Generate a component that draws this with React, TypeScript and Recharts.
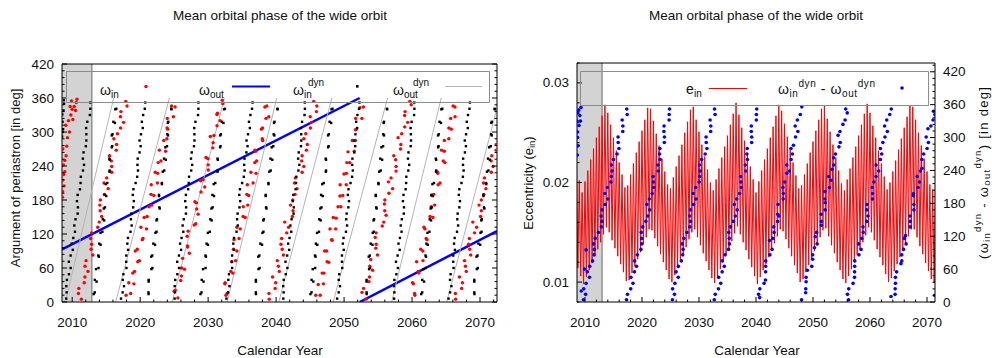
import React from "react";
import {
  ComposedChart,
  Line,
  Scatter,
  XAxis,
  YAxis,
  ReferenceArea,
  ReferenceLine,
} from "recharts";

const FONT = '"Liberation Sans", Arial, Helvetica, sans-serif';

// shaded observing window (calendar years)
const obsStart = 2008.5;
const obsEnd = 2012.9;

// axis ticks
const yearTicks = [2010, 2012, 2014, 2016, 2018, 2020, 2022, 2024, 2026, 2028, 2030, 2032, 2034, 2036, 2038, 2040, 2042, 2044, 2046, 2048, 2050, 2052, 2054, 2056, 2058, 2060, 2062, 2064, 2066, 2068, 2070, 2072];
const yearLabels = [2010, 2020, 2030, 2040, 2050, 2060, 2070];
const phaseTicks = [0, 25, 50, 75, 100, 125, 150, 175, 200];
const phaseLabels = [0, 50, 100, 150, 200];
const degTicks = [0, 12, 24, 36, 48, 60, 72, 84, 96, 108, 120, 132, 144, 156, 168, 180, 192, 204, 216, 228, 240, 252, 264, 276, 288, 300, 312, 324, 336, 348, 360, 372, 384, 396, 408, 420, 432];
const degLabels = [0, 60, 120, 180, 240, 300, 360, 420];
const eccTicks = [0.008, 0.01, 0.012, 0.014, 0.016, 0.018, 0.02, 0.022, 0.024, 0.026, 0.028, 0.03, 0.032];
const eccLabels = ["0.01", "0.02", "0.03"];

// omega_in (red points), [year, deg]
const omegaIn: [number, number][] = [
  [2008.55, 185], [2008.8, 205], [2008.6, 215], [2008.7, 242], [2008.92, 230], [2008.62, 270], [2009.1, 258], [2009.3, 290], [2009.05, 312], [2009.6, 300], [2009.8, 330], [2010.1, 322], [2010.3, 345], [2009.9, 355], [2010.5, 338], [2010.6, 352],
  [2008.58, 195], [2008.9, 250], [2009.2, 275], [2009.45, 320], [2010.0, 340], [2010.7, 358], [2009.7, 345], [2008.75, 225],
  [2011.35, 5], [2010.98, 24], [2011.87, 44], [2011.89, 63], [2013.04, 83], [2012.86, 102], [2012.86, 122], [2013.98, 141], [2014.12, 161], [2014.15, 180], [2015.3, 200], [2015.07, 219], [2015.81, 239], [2015.49, 258], [2016.53, 278], [2016.66, 297], [2017.56, 317], [2017.17, 336], [2017.88, 354],
  [2010.92, 15], [2011.77, 34], [2012.32, 54], [2012.04, 73], [2012.78, 93], [2012.71, 112], [2013.76, 132], [2014.33, 151], [2014.07, 171], [2014.75, 190], [2014.69, 210], [2015.82, 229], [2015.76, 249], [2016.48, 268], [2016.13, 288], [2017.11, 307], [2017.1, 327], [2018.07, 346],
  [2017.93, 12], [2019.08, 32], [2018.91, 51], [2019.65, 71], [2019.28, 90], [2020.32, 110], [2020.94, 129], [2020.59, 149], [2021.32, 168], [2022.01, 188], [2021.63, 207], [2022.58, 227], [2022.65, 246], [2023.75, 266], [2023.47, 285], [2024.06, 305], [2023.99, 324], [2025.14, 344],
  [2018.6, 15], [2018.32, 34], [2019.17, 54], [2019.89, 73], [2019.58, 93], [2020.41, 112], [2020.11, 132], [2021.03, 151], [2021.72, 171], [2021.6, 190], [2022.54, 210], [2022.22, 229], [2023.06, 249], [2022.83, 268], [2023.93, 288], [2023.96, 307], [2024.9, 327], [2024.62, 346],
  [2025.55, 7], [2025.18, 21], [2026.07, 46], [2026.09, 60], [2027.24, 86], [2026.96, 99], [2027.06, 125], [2028.18, 138], [2028.32, 164], [2028.05, 177], [2029.5, 203], [2029.27, 216], [2030.01, 242], [2029.69, 255], [2030.73, 281], [2030.86, 294], [2031.76, 320], [2031.37, 333], [2032.08, 356],
  [2025.0, 19], [2025.97, 38], [2026.52, 58], [2026.24, 77], [2026.98, 97], [2026.91, 116], [2027.96, 136], [2028.53, 155], [2028.27, 175], [2028.95, 194], [2028.89, 214], [2030.02, 233], [2029.96, 253], [2030.68, 272], [2030.33, 292], [2031.31, 311], [2031.3, 331], [2032.17, 350],
  [2032.63, 12], [2032.46, 32], [2033.63, 51], [2033.46, 71], [2034.23, 90], [2033.81, 110], [2034.72, 129], [2035.46, 149], [2035.17, 168], [2035.95, 188], [2035.77, 207], [2037.05, 227], [2036.86, 246], [2037.0, 266], [2038.02, 285], [2037.84, 305], [2038.51, 324], [2038.35, 344],
  [2032.79, 15], [2032.5, 34], [2033.34, 54], [2034.05, 73], [2033.73, 93], [2034.55, 112], [2034.23, 132], [2035.14, 151], [2035.83, 171], [2035.69, 190], [2036.62, 210], [2036.29, 229], [2037.13, 249], [2036.88, 268], [2037.97, 288], [2037.99, 307], [2038.92, 327], [2038.63, 346],
  [2038.99, 5], [2039.86, 24], [2039.48, 44], [2040.34, 63], [2041.07, 83], [2040.72, 102], [2041.56, 122], [2041.27, 141], [2042.49, 161], [2042.45, 180], [2043.08, 200], [2042.83, 219], [2044.07, 239], [2043.83, 258], [2044.6, 278], [2044.36, 297], [2045.19, 317], [2045.94, 336], [2045.53, 354],
  [2038.94, 15], [2039.94, 34], [2040.47, 54], [2040.18, 73], [2040.9, 93], [2040.82, 112], [2041.85, 132], [2042.4, 151], [2042.13, 171], [2042.79, 190], [2042.71, 210], [2043.83, 229], [2043.76, 249], [2044.46, 268], [2044.09, 288], [2045.05, 307], [2045.02, 327], [2045.99, 346],
  [2045.83, 12], [2046.96, 32], [2046.78, 51], [2047.51, 71], [2047.13, 90], [2048.16, 110], [2048.77, 129], [2048.41, 149], [2049.12, 168], [2049.8, 188], [2049.42, 207], [2050.35, 227], [2050.41, 246], [2051.5, 266], [2051.22, 285], [2051.79, 305], [2051.71, 324], [2052.85, 344],
  [2046.49, 12], [2046.2, 31], [2047.04, 51], [2047.75, 70], [2047.43, 90], [2048.25, 109], [2047.93, 129], [2048.84, 148], [2049.53, 168], [2049.39, 187], [2050.32, 207], [2049.99, 226], [2050.83, 246], [2050.58, 265], [2051.67, 285], [2051.69, 304], [2052.62, 324], [2052.33, 343],
  [2053.25, 5], [2052.87, 24], [2053.75, 44], [2053.78, 63], [2054.92, 83], [2054.73, 102], [2054.72, 122], [2055.84, 141], [2055.98, 161], [2056.0, 180], [2057.14, 200], [2056.91, 219], [2057.65, 239], [2057.32, 258], [2058.35, 278], [2058.48, 297], [2059.37, 317], [2058.98, 336], [2059.68, 354],
  [2052.64, 17], [2053.66, 36], [2054.2, 56], [2053.92, 75], [2054.66, 95], [2054.58, 114], [2055.62, 134], [2056.18, 153], [2055.93, 173], [2056.6, 192], [2056.53, 212], [2057.65, 231], [2057.59, 251], [2058.31, 270], [2057.95, 290], [2058.92, 309], [2058.91, 329], [2059.88, 348],
  [2060.42, 12], [2060.2, 32], [2061.0, 51], [2060.67, 71], [2061.58, 90], [2062.2, 110], [2061.9, 129], [2063.07, 149], [2062.83, 168], [2062.9, 188], [2063.85, 207], [2063.78, 227], [2064.83, 246], [2064.75, 266], [2064.76, 285], [2065.78, 305], [2065.68, 324], [2066.31, 344],
  [2060.38, 15], [2060.08, 34], [2060.91, 54], [2061.61, 73], [2061.28, 93], [2062.08, 112], [2061.76, 132], [2062.66, 151], [2063.33, 171], [2063.19, 190], [2064.11, 210], [2063.76, 229], [2064.59, 249], [2064.34, 268], [2065.41, 288], [2065.42, 307], [2066.33, 327], [2066.04, 346],
  [2066.41, 5], [2067.3, 24], [2066.97, 44], [2067.86, 63], [2068.63, 83], [2068.32, 102], [2069.19, 122], [2068.94, 141], [2070.2, 161], [2070.2, 180], [2070.87, 200], [2070.66, 219], [2071.93, 239], [2071.73, 258], [2072.4, 278],
  [2066.37, 15], [2067.41, 34], [2067.98, 54], [2067.72, 73], [2068.49, 93], [2068.43, 112], [2069.5, 132], [2070.09, 151], [2069.86, 171], [2070.56, 190], [2070.52, 210], [2071.67, 229], [2071.64, 249], [2072.38, 268],
];

// omega_in^dyn (black points), [year, deg]
const omegaInDyn: [number, number][] = [
  [2008.52, 292], [2008.58, 318], [2008.66, 305], [2008.72, 338], [2008.8, 350], [2008.55, 331], [2008.62, 300], [2008.76, 356],
  [2009.12, 6], [2009.13, 28], [2009.52, 49], [2009.51, 71], [2010.09, 92], [2010.16, 113], [2010.31, 135], [2010.8, 156], [2010.7, 178], [2011.14, 199], [2011.27, 221], [2011.74, 242], [2011.67, 264], [2012.08, 285], [2012.05, 307], [2012.6, 330], [2012.67, 352],
  [2009.18, 17], [2009.22, 39], [2009.77, 60], [2009.77, 82], [2009.93, 103], [2010.41, 124], [2010.49, 146], [2010.84, 167], [2010.8, 189], [2011.23, 210], [2011.59, 232], [2011.57, 253], [2012.01, 275], [2012.08, 296], [2012.22, 318], [2012.67, 341],
  [2013.16, 14], [2013.59, 36], [2013.5, 58], [2013.92, 80], [2014.18, 101], [2014.17, 122], [2014.7, 144], [2014.65, 165], [2015.01, 187], [2014.94, 208], [2015.49, 230], [2015.52, 251], [2015.82, 273], [2015.82, 294], [2016.28, 316], [2016.34, 340],
  [2013.32, 17], [2013.33, 39], [2013.87, 60], [2013.84, 82], [2013.98, 103], [2014.44, 124], [2014.5, 146], [2014.82, 167], [2014.77, 189], [2015.17, 210], [2015.51, 232], [2015.47, 253], [2015.89, 275], [2015.94, 296], [2016.06, 318], [2016.49, 341],
  [2017.18, 6], [2017.62, 28], [2017.53, 49], [2017.95, 71], [2018.22, 92], [2018.21, 113], [2018.75, 135], [2018.71, 156], [2019.07, 178], [2019.01, 199], [2019.56, 221], [2019.6, 242], [2019.91, 264], [2019.91, 285], [2020.38, 307], [2020.44, 330], [2020.75, 352],
  [2017.42, 17], [2017.44, 39], [2017.98, 60], [2017.96, 82], [2018.11, 103], [2018.58, 124], [2018.64, 146], [2018.97, 167], [2018.92, 189], [2019.33, 210], [2019.68, 232], [2019.64, 253], [2020.07, 275], [2020.12, 296], [2020.25, 318], [2020.68, 341],
  [2021.24, 14], [2021.25, 36], [2021.65, 58], [2021.62, 80], [2022.19, 101], [2022.25, 122], [2022.4, 144], [2022.88, 165], [2022.77, 187], [2023.2, 208], [2023.32, 230], [2023.78, 251], [2023.71, 273], [2024.1, 294], [2024.07, 316], [2024.61, 340],
  [2021.22, 17], [2021.25, 39], [2021.8, 60], [2021.78, 82], [2021.94, 103], [2022.41, 124], [2022.48, 146], [2022.82, 167], [2022.77, 189], [2023.19, 210], [2023.54, 232], [2023.51, 253], [2023.95, 275], [2024.0, 296], [2024.14, 318], [2024.57, 341],
  [2025.07, 6], [2025.08, 28], [2025.47, 49], [2025.45, 71], [2026.02, 92], [2026.09, 113], [2026.25, 135], [2026.73, 156], [2026.63, 178], [2027.06, 199], [2027.19, 221], [2027.65, 242], [2027.59, 264], [2027.99, 285], [2027.96, 307], [2028.51, 330], [2028.57, 352],
  [2025.13, 17], [2025.16, 39], [2025.72, 60], [2025.71, 82], [2025.87, 103], [2026.35, 124], [2026.42, 146], [2026.76, 167], [2026.73, 189], [2027.15, 210], [2027.51, 232], [2027.48, 253], [2027.92, 275], [2027.98, 296], [2028.13, 318], [2028.57, 341],
  [2028.87, 14], [2029.32, 36], [2029.25, 58], [2029.68, 80], [2029.97, 101], [2029.97, 122], [2030.52, 144], [2030.49, 165], [2030.86, 187], [2030.82, 208], [2031.38, 230], [2031.43, 251], [2031.75, 273], [2031.77, 294], [2032.25, 316], [2032.33, 340],
  [2029.03, 17], [2029.06, 39], [2029.62, 60], [2029.61, 82], [2029.77, 103], [2030.25, 124], [2030.32, 146], [2030.66, 167], [2030.63, 189], [2031.05, 210], [2031.41, 232], [2031.38, 253], [2031.82, 275], [2031.88, 296], [2032.03, 318], [2032.47, 341],
  [2032.69, 6], [2033.14, 28], [2033.07, 49], [2033.51, 71], [2033.8, 92], [2033.81, 113], [2034.36, 135], [2034.34, 156], [2034.72, 178], [2034.68, 199], [2035.25, 221], [2035.3, 242], [2035.63, 264], [2035.65, 285], [2036.14, 307], [2036.22, 330], [2036.54, 352],
  [2032.93, 17], [2032.97, 39], [2033.53, 60], [2033.53, 82], [2033.7, 103], [2034.18, 124], [2034.26, 146], [2034.61, 167], [2034.58, 189], [2035.0, 210], [2035.37, 232], [2035.35, 253], [2035.8, 275], [2035.87, 296], [2036.01, 318], [2036.46, 341],
  [2037.04, 14], [2037.03, 36], [2037.41, 58], [2037.38, 80], [2037.93, 101], [2037.99, 122], [2038.12, 144], [2038.58, 165], [2038.47, 187], [2038.88, 208], [2039.0, 230], [2039.44, 251], [2039.35, 273], [2039.74, 294], [2039.69, 316], [2040.22, 340],
  [2037.02, 17], [2037.03, 39], [2037.57, 60], [2037.54, 82], [2037.68, 103], [2038.14, 124], [2038.2, 146], [2038.52, 167], [2038.47, 189], [2038.87, 210], [2039.21, 232], [2039.17, 253], [2039.59, 275], [2039.64, 296], [2039.76, 318], [2040.19, 341],
  [2041.06, 6], [2041.05, 28], [2041.42, 49], [2041.38, 71], [2041.93, 92], [2041.98, 113], [2042.11, 135], [2042.57, 156], [2042.45, 178], [2042.87, 199], [2042.98, 221], [2043.42, 242], [2043.33, 264], [2043.71, 285], [2043.66, 307], [2044.18, 330], [2044.22, 352],
  [2041.11, 17], [2041.12, 39], [2041.66, 60], [2041.63, 82], [2041.77, 103], [2042.23, 124], [2042.28, 146], [2042.6, 167], [2042.54, 189], [2042.94, 210], [2043.28, 232], [2043.24, 253], [2043.66, 275], [2043.7, 296], [2043.82, 318], [2044.24, 341],
  [2045.05, 14], [2045.48, 36], [2045.39, 58], [2045.8, 80], [2046.06, 101], [2046.03, 122], [2046.56, 144], [2046.51, 165], [2046.86, 187], [2046.79, 208], [2047.32, 230], [2047.35, 251], [2047.65, 273], [2047.64, 294], [2048.1, 316], [2048.15, 340],
  [2045.21, 17], [2045.22, 39], [2045.75, 60], [2045.72, 82], [2045.85, 103], [2046.31, 124], [2046.36, 146], [2046.68, 167], [2046.62, 189], [2047.01, 210], [2047.35, 232], [2047.3, 253], [2047.72, 275], [2047.76, 296], [2047.87, 318], [2048.29, 341],
  [2048.98, 6], [2049.4, 28], [2049.29, 49], [2049.69, 71], [2049.95, 92], [2049.92, 113], [2050.44, 135], [2050.38, 156], [2050.72, 178], [2050.65, 199], [2051.18, 221], [2051.2, 242], [2051.49, 264], [2051.47, 285], [2051.93, 307], [2051.97, 330], [2052.26, 352],
  [2049.21, 17], [2049.21, 39], [2049.73, 60], [2049.69, 82], [2049.82, 103], [2050.28, 124], [2050.32, 146], [2050.63, 167], [2050.56, 189], [2050.95, 210], [2051.29, 232], [2051.23, 253], [2051.64, 275], [2051.67, 296], [2051.78, 318], [2052.2, 341],
  [2053.33, 14], [2053.31, 36], [2053.68, 58], [2053.63, 80], [2054.18, 101], [2054.22, 122], [2054.34, 144], [2054.79, 165], [2054.66, 187], [2055.07, 208], [2055.17, 230], [2055.6, 251], [2055.5, 273], [2055.88, 294], [2055.82, 316], [2056.34, 340],
  [2053.31, 17], [2053.31, 39], [2053.83, 60], [2053.79, 82], [2053.92, 103], [2054.38, 124], [2054.42, 146], [2054.73, 167], [2054.66, 189], [2055.05, 210], [2055.39, 232], [2055.33, 253], [2055.74, 275], [2055.77, 296], [2055.88, 318], [2056.3, 341],
  [2057.36, 6], [2057.33, 28], [2057.69, 49], [2057.64, 71], [2058.18, 92], [2058.22, 113], [2058.34, 135], [2058.79, 156], [2058.66, 178], [2059.06, 199], [2059.16, 221], [2059.58, 242], [2059.48, 264], [2059.85, 285], [2059.79, 307], [2060.3, 330], [2060.33, 352],
  [2057.4, 17], [2057.4, 39], [2057.92, 60], [2057.88, 82], [2058.01, 103], [2058.46, 124], [2058.5, 146], [2058.81, 167], [2058.74, 189], [2059.13, 210], [2059.45, 232], [2059.4, 253], [2059.8, 275], [2059.83, 296], [2059.94, 318], [2060.35, 341],
  [2061.35, 14], [2061.77, 36], [2061.66, 58], [2062.06, 80], [2062.31, 101], [2062.28, 122], [2062.8, 144], [2062.74, 165], [2063.08, 187], [2063.0, 208], [2063.53, 230], [2063.55, 251], [2063.83, 273], [2063.82, 294], [2064.26, 316], [2064.31, 340],
  [2061.5, 17], [2061.5, 39], [2062.02, 60], [2061.98, 82], [2062.11, 103], [2062.56, 124], [2062.6, 146], [2062.91, 167], [2062.84, 189], [2063.23, 210], [2063.55, 232], [2063.5, 253], [2063.9, 275], [2063.93, 296], [2064.04, 318], [2064.45, 341],
  [2065.37, 6], [2065.79, 28], [2065.67, 49], [2066.06, 71], [2066.31, 92], [2066.27, 113], [2066.78, 135], [2066.71, 156], [2067.05, 178], [2066.96, 199], [2067.48, 221], [2067.5, 242], [2067.78, 264], [2067.76, 285], [2068.2, 307], [2068.23, 330], [2068.51, 352],
  [2065.6, 17], [2065.59, 39], [2066.11, 60], [2066.06, 82], [2066.18, 103], [2066.62, 124], [2066.66, 146], [2066.96, 167], [2066.88, 189], [2067.27, 210], [2067.59, 232], [2067.52, 253], [2067.93, 275], [2067.95, 296], [2068.05, 318], [2068.45, 341],
  [2069.18, 14], [2069.16, 36], [2069.53, 58], [2069.48, 80], [2070.03, 101], [2070.07, 122], [2070.19, 144], [2070.64, 165], [2070.51, 187], [2070.92, 208], [2071.02, 230], [2071.45, 251], [2071.35, 273], [2071.73, 294], [2071.67, 316], [2072.19, 340],
  [2069.16, 17], [2069.16, 39], [2069.68, 60], [2069.64, 82], [2069.77, 103], [2070.23, 124], [2070.27, 146], [2070.58, 167], [2070.51, 189], [2070.9, 210], [2071.24, 232], [2071.18, 253], [2071.59, 275], [2071.62, 296], [2071.73, 318], [2072.15, 341],
];

// omega_out (blue line), two wraps
const omegaOut: [number, number][][] = [
  [[2008.5, 93], [2052.3, 360]],
  [[2052.3, 0], [2072.5, 125]],
];

// omega_out^dyn (gray line), one ramp per wrap
const omegaOutDyn: [number, number][][] = [
  [[2009.0, 0], [2016.1, 360]],
  [[2016.4, 0], [2024.3, 360]],
  [[2024.7, 0], [2032.4, 360]],
  [[2032.8, 0], [2040.1, 360]],
  [[2040.4, 0], [2048.2, 360]],
  [[2048.4, 0], [2056.4, 360]],
  [[2057.0, 0], [2064.3, 360]],
  [[2065.1, 0], [2072.5, 342]],
];

// e_in: fast oscillation, upper and lower turning values (x 1e-3), one pair per half year from 2008.5
const eStart = 2008.5;
const eStep = 0.5;
const eInHigh = [
  21.5, 20.2, 19.0, 20.1, 21.2, 22.3, 23.4, 24.5, 25.6, 26.7, 27.8, 27.0, 25.8, 24.5, 23.2, 22.0, 20.8, 19.5,
  19.7, 20.8, 21.9, 23.0, 24.1, 25.2, 26.3, 27.5, 27.4, 26.2, 24.9, 23.7, 22.4, 21.1, 19.8,
  19.4, 20.5, 21.6, 22.7, 23.8, 25.0, 26.1, 27.3, 27.6, 26.3, 25.1, 23.8, 22.6, 21.3, 20.0,
  19.2, 20.3, 21.4, 22.5, 23.6, 24.7, 25.8, 26.9, 28.0, 26.8, 25.5, 24.2, 22.9, 21.6, 20.3, 19.0,
  20.1, 21.2, 22.3, 23.4, 24.5, 25.6, 26.7, 27.8, 27.2, 25.9, 24.6, 23.3, 22.0, 20.7, 19.4,
  19.7, 20.8, 21.9, 23.0, 24.1, 25.2, 26.3, 27.4, 27.7, 26.4, 25.1, 23.8, 22.5, 21.2, 19.9,
  19.2, 20.3, 21.4, 22.5, 23.6, 24.7, 25.8, 26.9, 27.9, 27.0, 25.7, 24.5, 23.2, 21.9, 20.6, 19.3,
  20.0, 21.1, 22.2, 23.3, 24.4, 25.5, 26.6, 27.7, 27.6, 26.3, 25.0, 23.7, 22.4, 21.1, 19.8, 19.3, 20.4,
];
const eInLow = [
  11.4, 10.6, 9.8, 10.5, 11.2, 11.9, 12.6, 13.3, 14.0, 14.8, 15.5, 15.0, 14.2, 13.4, 12.6, 11.8, 11.0, 10.1,
  10.2, 10.9, 11.6, 12.3, 13.0, 13.8, 14.5, 15.3, 15.2, 14.4, 13.6, 12.8, 12.0, 11.2, 10.3,
  10.0, 10.7, 11.4, 12.1, 12.8, 13.5, 14.3, 15.0, 15.3, 14.5, 13.7, 12.9, 12.1, 11.2, 10.4,
  9.9, 10.6, 11.3, 12.0, 12.7, 13.4, 14.1, 14.9, 15.6, 14.8, 14.0, 13.2, 12.3, 11.5, 10.6, 9.8,
  10.5, 11.2, 11.8, 12.5, 13.2, 13.9, 14.6, 15.3, 15.1, 14.3, 13.4, 12.6, 11.7, 10.9, 10.0,
  10.3, 11.0, 11.7, 12.4, 13.1, 13.8, 14.5, 15.2, 15.4, 14.6, 13.7, 12.9, 12.0, 11.2, 10.3,
  9.9, 10.6, 11.3, 12.0, 12.7, 13.3, 14.0, 14.7, 15.5, 15.0, 14.2, 13.3, 12.5, 11.7, 10.8, 10.0,
  10.4, 11.1, 11.8, 12.5, 13.2, 13.9, 14.6, 15.3, 15.3, 14.5, 13.6, 12.8, 11.9, 11.1, 10.3, 9.9, 10.6,
];

// omega_in^dyn - omega_out^dyn (blue points), [year, deg]
const dynDiff: [number, number][] = [
  [2008.65, 268], [2008.7, 300], [2008.8, 285], [2008.95, 322], [2009.1, 340], [2008.75, 345], [2009.3, 355], [2008.62, 330],
  [2008.7, 310], [2008.9, 350], [2009.2, 330], [2009.35, 20], [2009.9, 60], [2010.2, 95],
  [2009.74, 4], [2009.78, 24], [2010.79, 45], [2010.83, 65], [2011.59, 86], [2011.52, 106], [2012.34, 127], [2012.97, 147], [2012.99, 168], [2013.97, 188], [2013.94, 209], [2014.62, 229], [2014.63, 250], [2015.63, 270], [2015.83, 291], [2016.63, 311], [2016.53, 332], [2017.33, 352],
  [2010.11, 14], [2010.19, 34], [2010.41, 55], [2011.34, 75], [2011.66, 96], [2011.79, 116], [2012.86, 137], [2012.84, 157], [2013.55, 178], [2013.5, 198], [2014.55, 219], [2014.75, 239], [2015.0, 260], [2015.95, 280], [2015.8, 301], [2016.65, 321], [2017.4, 342],
  [2017.29, 4], [2018.02, 24], [2018.06, 45], [2019.04, 65], [2019.19, 86], [2019.96, 106], [2019.87, 127], [2020.69, 147], [2021.35, 168], [2021.27, 188], [2022.07, 209], [2021.95, 229], [2022.79, 250], [2023.08, 270], [2023.92, 291], [2023.85, 311], [2024.75, 332], [2024.83, 352],
  [2017.45, 14], [2018.42, 34], [2018.68, 55], [2018.7, 75], [2019.81, 96], [2019.93, 116], [2020.13, 137], [2021.01, 157], [2020.85, 178], [2021.79, 198], [2022.03, 219], [2022.86, 239], [2023.16, 260], [2023.14, 280], [2023.94, 301], [2023.87, 321], [2024.77, 342],
  [2025.34, 4], [2025.37, 24], [2026.36, 45], [2026.39, 65], [2027.14, 86], [2027.06, 106], [2027.87, 127], [2028.49, 147], [2028.5, 168], [2029.47, 188], [2029.42, 209], [2030.1, 229], [2030.09, 250], [2031.08, 270], [2031.27, 291], [2032.05, 311], [2031.95, 332], [2032.73, 352],
  [2025.7, 14], [2025.77, 34], [2025.98, 55], [2026.9, 75], [2027.21, 96], [2027.33, 116], [2028.38, 137], [2028.36, 157], [2029.05, 178], [2028.99, 198], [2030.03, 219], [2030.21, 239], [2030.46, 260], [2031.39, 280], [2031.24, 301], [2032.07, 321], [2032.82, 342],
  [2032.68, 4], [2033.41, 24], [2033.45, 45], [2034.43, 65], [2034.57, 86], [2035.33, 106], [2035.23, 127], [2036.05, 147], [2036.7, 168], [2036.62, 188], [2037.42, 209], [2037.28, 229], [2038.12, 250], [2038.4, 270], [2039.24, 291], [2039.17, 311], [2040.06, 332], [2040.13, 352],
  [2032.85, 14], [2033.81, 34], [2034.06, 55], [2034.08, 75], [2035.18, 96], [2035.3, 116], [2035.5, 137], [2036.36, 157], [2036.2, 178], [2037.13, 198], [2037.37, 219], [2038.2, 239], [2038.49, 260], [2038.46, 280], [2039.25, 301], [2039.18, 321], [2040.07, 342],
  [2040.64, 8], [2040.67, 24], [2041.66, 40], [2041.69, 65], [2042.44, 86], [2042.36, 112], [2043.17, 127], [2043.79, 147], [2043.8, 160], [2044.77, 188], [2044.72, 209], [2045.4, 235], [2045.39, 250], [2046.38, 270], [2046.57, 286], [2047.35, 311], [2047.25, 332], [2048.03, 356],
  [2040.45, 14], [2041.42, 34], [2041.68, 55], [2041.7, 75], [2042.81, 96], [2042.93, 116], [2043.13, 137], [2044.01, 157], [2043.85, 178], [2044.79, 198], [2045.03, 219], [2045.86, 239], [2046.16, 260], [2046.14, 280], [2046.94, 301], [2046.87, 321], [2047.77, 342],
  [2047.99, 4], [2048.73, 24], [2048.79, 45], [2049.78, 65], [2049.94, 86], [2050.72, 106], [2050.64, 127], [2051.47, 147], [2052.14, 168], [2052.07, 188], [2052.89, 209], [2052.77, 229], [2053.63, 250], [2053.93, 270], [2054.78, 291], [2054.73, 311], [2055.63, 332], [2055.73, 352],
  [2048.71, 17], [2048.79, 37], [2049.01, 58], [2049.94, 78], [2050.26, 99], [2050.39, 119], [2051.46, 140], [2051.44, 160], [2052.15, 181], [2052.1, 201], [2053.15, 222], [2053.35, 242], [2053.6, 263], [2054.55, 283], [2054.4, 304], [2055.25, 324], [2056.0, 345],
  [2056.24, 4], [2056.27, 24], [2057.28, 45], [2057.31, 65], [2058.06, 86], [2057.99, 106], [2058.8, 127], [2059.43, 147], [2059.44, 168], [2060.42, 188], [2060.38, 209], [2061.06, 229], [2061.06, 250], [2062.05, 270], [2062.25, 291], [2063.04, 311], [2062.94, 332], [2063.73, 352],
  [2056.05, 14], [2057.03, 34], [2057.29, 55], [2057.32, 75], [2058.43, 96], [2058.56, 116], [2058.77, 137], [2059.65, 157], [2059.5, 178], [2060.44, 198], [2060.69, 219], [2061.53, 239], [2061.83, 260], [2061.82, 280], [2062.62, 301], [2062.56, 321], [2063.46, 342],
  [2063.68, 10], [2064.41, 24], [2064.45, 45], [2065.43, 70], [2065.57, 86], [2066.33, 106], [2066.23, 121], [2067.05, 147], [2067.7, 168], [2067.62, 194], [2068.42, 209], [2068.28, 229], [2069.12, 244], [2069.4, 270], [2070.24, 291], [2070.17, 316], [2071.06, 332], [2071.13, 348], [2071.35, 12],
  [2064.4, 14], [2064.46, 34], [2064.66, 55], [2065.58, 75], [2065.88, 96], [2066.0, 116], [2067.05, 137], [2067.01, 157], [2067.7, 178], [2067.63, 198], [2068.67, 219], [2068.85, 239], [2069.09, 260], [2070.01, 280], [2069.85, 301], [2070.68, 321], [2071.38, 342],
];

const toXY = (pts: [number, number][]) => pts.map(([x, y]) => ({ x, y }));

const eInTable = eInHigh.flatMap((h, i) => [
  { x: eStart + i * eStep, y: h / 1000 },
  { x: eStart + i * eStep + eStep / 2, y: eInLow[i] / 1000 },
]);

type Side = "top" | "bottom" | "left" | "right";

// plot frame positions, used only to ignore stray tick calls away from the axis line
const frame = { left: { top: 64, bottom: 302 }, right: { top: 63, bottom: 302 } };

function makeTick(side: Side, isMajor: (v: number) => boolean, label?: (v: number) => string | null, axisPos?: number) {
  return function AxisTick(props: any) {
    const { x, y, payload } = props;
    if (axisPos !== undefined) {
      const p = side === "top" || side === "bottom" ? y : x;
      if (Math.abs(p - axisPos) > 3) return <g />;
    }
    const v = Number(payload.value);
    const major = isMajor(v);
    const len = major ? 5 : 2.5;
    const text = label && major ? label(v) : null;
    const t = { fontFamily: FONT, fontSize: 13.5, fill: "#111" };
    let line;
    let lab = null;
    if (side === "bottom") {
      line = <line x1={x} y1={y} x2={x} y2={y - len} stroke="#000" />;
      if (text) lab = <text x={x} y={y + 20} textAnchor="middle" dominantBaseline="central" {...t}>{text}</text>;
    } else if (side === "top") {
      line = <line x1={x} y1={y} x2={x} y2={y + len} stroke="#000" />;
      if (text) lab = <text x={x} y={y - 19} textAnchor="middle" dominantBaseline="central" {...t}>{text}</text>;
    } else if (side === "left") {
      line = <line x1={x} y1={y} x2={x + len} y2={y} stroke="#000" />;
      if (text) lab = <text x={x - 8} y={y} textAnchor="end" dominantBaseline="central" {...t}>{text}</text>;
    } else {
      line = <line x1={x} y1={y} x2={x - len} y2={y} stroke="#000" />;
      if (text) lab = <text x={x + 8} y={y} textAnchor="start" dominantBaseline="central" {...t}>{text}</text>;
    }
    return <g>{line}{lab}</g>;
  };
}

const isYearMajor = (v: number) => yearLabels.includes(v);
const isPhaseMajor = (v: number) => phaseLabels.includes(v);
const isDegMajor = (v: number) => degLabels.includes(v);
const isEccMajor = (v: number) => eccLabels.includes(v.toFixed(2)) && Math.abs(v * 100 - Math.round(v * 100)) < 1e-6;

const square = (color: string, s: number) => (p: any) =>
  <rect x={p.cx - s / 2} y={p.cy - s / 2} width={s} height={s} fill={color} />;
const dot = (color: string, r: number) => (p: any) =>
  <circle cx={p.cx} cy={p.cy} r={r} fill={color} />;

const axisLine = { stroke: "#000", strokeWidth: 1 };

function OrbitPanel() {
  const xDomain: [number, number] = [2008.5, 2072.5];
  return (
    <ComposedChart width={520} height={358} margin={{ top: 0, right: 0, bottom: 0, left: 0 }}>
      <XAxis xAxisId="yr" dataKey="x" type="number" domain={xDomain} allowDataOverflow ticks={yearTicks} interval={0}
        tickSize={0} tickMargin={0} tickLine={false} axisLine={axisLine} height={56}
        tick={makeTick("bottom", isYearMajor, (v) => String(v), frame.left.bottom)} />
      <XAxis xAxisId="ph" orientation="top" type="number" domain={[-2.3, 200]} allowDataOverflow ticks={phaseTicks} interval={0}
        tickSize={0} tickMargin={0} tickLine={false} axisLine={axisLine} height={64}
        tick={makeTick("top", isPhaseMajor, (v) => String(v), frame.left.top)} />
      <YAxis yAxisId="deg" dataKey="y" type="number" domain={[0, 420]} allowDataOverflow ticks={degTicks.filter((d) => d <= 420)} interval={0}
        tickSize={0} tickMargin={0} tickLine={false} axisLine={axisLine} width={62}
        tick={makeTick("left", isDegMajor, (v) => String(v), 62)} />
      <YAxis yAxisId="mir" orientation="right" type="number" domain={[0, 420]} allowDataOverflow ticks={degTicks.filter((d) => d <= 420)} interval={0}
        tickSize={0} tickMargin={0} tickLine={false} axisLine={axisLine} width={23}
        tick={makeTick("right", isDegMajor, undefined, 497)} />
      <ReferenceArea xAxisId="yr" yAxisId="deg" x1={obsStart} x2={obsEnd} y1={0} y2={420} fill="#d3d3d3" fillOpacity={1} stroke="none" />
      <ReferenceLine xAxisId="yr" yAxisId="deg" x={obsEnd} stroke="#6a6a6a" strokeWidth={1} />
      <Scatter xAxisId="yr" yAxisId="deg" data={toXY(omegaIn)} dataKey="y" shape={dot("#ff0000", 1.7)} isAnimationActive={false} />
      {omegaOut.map((seg, i) => (
        <Line key={"o" + i} xAxisId="yr" yAxisId="deg" data={toXY(seg)} dataKey="y" type="linear" stroke="#0000ff"
          strokeWidth={2.5} dot={false} activeDot={false} isAnimationActive={false} />
      ))}
      <Scatter xAxisId="yr" yAxisId="deg" data={toXY(omegaInDyn)} dataKey="y" shape={square("#000", 2.4)} isAnimationActive={false} />
      {omegaOutDyn.map((seg, i) => (
        <Line key={"g" + i} xAxisId="yr" yAxisId="deg" data={toXY(seg)} dataKey="y" type="linear" stroke="#b4b4b4"
          strokeWidth={1} dot={false} activeDot={false} isAnimationActive={false} />
      ))}
    </ComposedChart>
  );
}

function EccPanel() {
  const xDomain: [number, number] = [2008.6, 2071.4];
  return (
    <ComposedChart width={472} height={358} margin={{ top: 0, right: 0, bottom: 0, left: 0 }}>
      <XAxis xAxisId="yr" dataKey="x" type="number" domain={xDomain} allowDataOverflow ticks={yearTicks.filter((t) => t <= 2071)} interval={0}
        tickSize={0} tickMargin={0} tickLine={false} axisLine={axisLine} height={56}
        tick={makeTick("bottom", isYearMajor, (v) => String(v), frame.right.bottom)} />
      <XAxis xAxisId="ph" orientation="top" type="number" domain={[-1.7, 200]} allowDataOverflow ticks={phaseTicks} interval={0}
        tickSize={0} tickMargin={0} tickLine={false} axisLine={axisLine} height={63}
        tick={makeTick("top", isPhaseMajor, (v) => String(v), frame.right.top)} />
      <YAxis yAxisId="e" dataKey="y" type="number" domain={[0.008, 0.032]} allowDataOverflow ticks={eccTicks} interval={0}
        tickSize={0} tickMargin={0} tickLine={false} axisLine={axisLine} width={57}
        tick={makeTick("left", isEccMajor, (v) => v.toFixed(2), 57)} />
      <YAxis yAxisId="d" orientation="right" dataKey="y" type="number" domain={[0, 436]} allowDataOverflow ticks={degTicks} interval={0}
        tickSize={0} tickMargin={0} tickLine={false} axisLine={axisLine} width={57}
        tick={makeTick("right", isDegMajor, (v) => String(v), 415)} />
      <ReferenceArea xAxisId="yr" yAxisId="e" x1={2008.6} x2={2013.0} y1={0.008} y2={0.032} fill="#d3d3d3" fillOpacity={1} stroke="none" />
      <ReferenceLine xAxisId="yr" yAxisId="e" x={2013.0} stroke="#6a6a6a" strokeWidth={1} />
      <Line xAxisId="yr" yAxisId="e" data={eInTable} dataKey="y" type="linear" stroke="#ff0000" strokeWidth={1}
        dot={false} activeDot={false} isAnimationActive={false} />
      <Scatter xAxisId="yr" yAxisId="d" data={toXY(dynDiff)} dataKey="y" shape={dot("#0000ff", 1.8)} isAnimationActive={false} />
    </ComposedChart>
  );
}

function Overlay() {
  const t = { fontFamily: FONT, fill: "#111" };
  return (
    <svg width={992} height={358} style={{ position: "absolute", left: 0, top: 0, pointerEvents: "none" }}>
      <text x={280} y={15} fontSize={13.5} textAnchor="middle" dominantBaseline="central" {...t}>Mean orbital phase of the wide orbit</text>
      <text x={756} y={15} fontSize={13.5} textAnchor="middle" dominantBaseline="central" {...t}>Mean orbital phase of the wide orbit</text>
      <text x={280} y={350} fontSize={13.5} textAnchor="middle" dominantBaseline="central" {...t}>Calendar Year</text>
      <text x={757} y={350} fontSize={13.5} textAnchor="middle" dominantBaseline="central" {...t}>Calendar Year</text>
      <text transform="translate(15,178) rotate(-90)" fontSize={13} textAnchor="middle" dominantBaseline="central" {...t}>Argument of periastron [in deg]</text>
      <text transform="translate(528,183) rotate(-90)" fontSize={13} textAnchor="middle" dominantBaseline="central" {...t}>
        <tspan>Eccentricity (e</tspan><tspan fontSize={9.5} dy={3}>in</tspan><tspan dy={-3}>)</tspan>
      </text>
      <text transform="translate(983,173) rotate(-90)" fontSize={13} textAnchor="middle" dominantBaseline="central" textLength={172} lengthAdjust="spacing" style={{ whiteSpace: "pre" }} {...t}>
        <tspan>(ω</tspan><tspan fontSize={9.5} dy={3}>in</tspan><tspan fontSize={9.5} dy={-9}>dyn</tspan>
        <tspan dy={6}> - ω</tspan><tspan fontSize={9.5} dy={3}>out</tspan><tspan fontSize={9.5} dy={-9}>dyn</tspan>
        <tspan dy={6}>) [in deg]</tspan>
      </text>

      {/* left legend */}
      <path d="M66.5 71.5 H489.5 V102.5 H66.5 Z" fill="none" stroke="#8c8c8c" />
      <text x={100} y={94.5} fontSize={14} {...t}>ω</text>
      <text x={111} y={97.5} fontSize={10} {...t}>in</text>
      <circle cx={146} cy={86.5} r={1.7} fill="#ff0000" />
      <text x={199} y={94.5} fontSize={14} {...t}>ω</text>
      <text x={210} y={97.5} fontSize={10} {...t}>out</text>
      <line x1={232} y1={86.5} x2={270} y2={86.5} stroke="#0000ff" strokeWidth={2} />
      <text x={293} y={94.5} fontSize={14} {...t}>ω</text>
      <text x={304} y={97.5} fontSize={10} {...t}>in</text>
      <text x={308} y={86} fontSize={10} {...t}>dyn</text>
      <rect x={356} y={85} width={2.6} height={2.6} fill="#000" />
      <text x={393} y={94.5} fontSize={14} {...t}>ω</text>
      <text x={404} y={97.5} fontSize={10} {...t}>out</text>
      <text x={413} y={86} fontSize={10} {...t}>dyn</text>
      <line x1={445} y1={86.5} x2={482} y2={86.5} stroke="#b4b4b4" strokeWidth={1} />

      {/* right legend */}
      <path d="M580.5 71.5 H928.5 V105.5 H580.5 Z" fill="none" stroke="#8c8c8c" />
      <text x={686} y={94} fontSize={14} {...t}>e</text>
      <text x={694} y={97} fontSize={10} {...t}>in</text>
      <line x1={709} y1={88.5} x2={747} y2={88.5} stroke="#ff0000" strokeWidth={1} />
      <text x={778} y={94} fontSize={14} textLength={97} lengthAdjust="spacing" style={{ whiteSpace: "pre" }} {...t}>
        <tspan>ω</tspan><tspan fontSize={10} dy={3}>in</tspan><tspan fontSize={10} dy={-10}>dyn</tspan>
        <tspan dy={7}> - ω</tspan><tspan fontSize={10} dy={3}>out</tspan><tspan fontSize={10} dy={-10}>dyn</tspan>
      </text>
      <circle cx={902} cy={88} r={1.8} fill="#0000ff" />
    </svg>
  );
}

export default function App() {
  return (
    <div style={{ position: "absolute", left: 0, top: 0, width: 992, height: 358, background: "#fff", overflow: "hidden" }}>
      <div style={{ position: "absolute", left: 0, top: 0 }}>
        <OrbitPanel />
      </div>
      <div style={{ position: "absolute", left: 520, top: 0 }}>
        <EccPanel />
      </div>
      <Overlay />
    </div>
  );
}
